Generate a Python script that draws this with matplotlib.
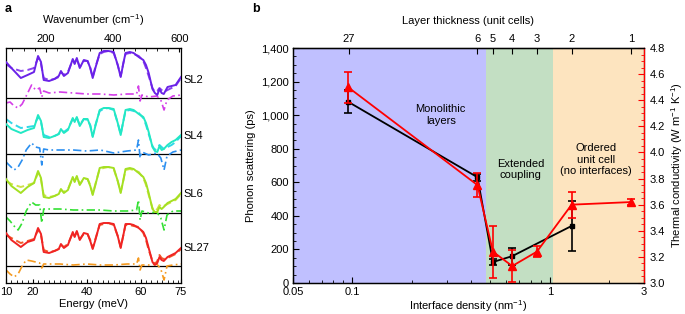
import numpy as np
import matplotlib
matplotlib.use("Agg")
import matplotlib.pyplot as plt
from matplotlib.ticker import FixedLocator, NullLocator, MultipleLocator, FuncFormatter

plt.rcParams['font.family'] = ['Liberation Sans', 'DejaVu Sans']
plt.rcParams['font.size'] = 7.5
plt.rcParams['mathtext.default'] = 'regular'

# ---------------- panel a data (heights above each baseline, arb. units) ----------------
E_main = [10, 12, 15.5, 18, 20.4, 21.9, 23, 24, 26, 28, 29.6, 30.4, 31.5, 33, 34.8, 35.5,
          36.3, 37.4, 38.9, 40.3, 41.3, 42.2, 43.2, 44.8, 46.3, 48, 50, 51.5, 52.6, 53.6,
          54.4, 56, 57.4, 59.3, 61, 62, 63, 64.4, 65.3, 66.2, 67, 67.8, 68.6, 70, 71.5, 73, 75]

sl2_solid = [36, 30, 20, 23, 26, 42, 36, 18, 17, 19, 22, 27, 22, 25, 39, 34, 40, 30, 38, 37, 30, 20, 30, 45,
             47, 47, 46, 33, 21, 35, 45, 46, 45, 41, 38, 33, 25, 9, 5, 3, 9, 5, 4, 11, 12, 13, 21]
sl2_dash = [34, 30, 27, 28, 30, 40, 34, 20, 18, 19, 21, 26, 23, 26, 38, 35, 39, 31, 37, 37, 30, 21, 31, 44,
            46, 47, 45, 33, 22, 35, 44, 45, 44, 42, 37, 30, 22, 10, 6, 7, 10, 8, 6, 8, 10, 12, 20]

sl4_solid = [30, 25, 21, 24, 26, 39, 33, 17, 16, 18, 20, 25, 21, 24, 36, 32, 37, 28, 35, 35, 28, 17, 28, 44,
             46, 46, 45, 31, 19, 33, 44, 45, 44, 40, 37, 31, 22, 7, 3, 2, 8, 4, 5, 9, 12, 14, 19]
sl4_dash = [35, 31, 26, 27, 28, 37, 32, 19, 17, 18, 20, 24, 22, 25, 35, 33, 36, 29, 35, 34, 29, 18, 29, 43,
            45, 46, 44, 31, 20, 33, 43, 44, 43, 41, 36, 29, 20, 8, 4, 6, 9, 7, 5, 7, 9, 12, 18]

sl6_solid = [34, 27, 20, 26, 30, 42, 35, 16, 15, 17, 19, 24, 20, 23, 36, 31, 37, 28, 35, 34, 27, 18, 28, 45,
             46, 46, 45, 32, 20, 33, 44, 45, 44, 40, 36, 30, 20, 4, 1, 1, 6, 4, 6, 10, 12, 14, 20]
sl6_dash = [32, 29, 26, 28, 30, 40, 33, 18, 16, 17, 19, 23, 21, 24, 35, 32, 36, 29, 34, 34, 28, 19, 29, 44,
            45, 46, 44, 32, 21, 33, 43, 44, 43, 41, 35, 28, 18, 5, 2, 4, 8, 6, 7, 9, 11, 13, 19]

sl27_solid = [33, 26, 19, 24, 26, 38, 32, 14, 13, 15, 17, 22, 18, 21, 34, 29, 35, 26, 33, 32, 25, 17, 26, 42,
              43, 43, 42, 30, 18, 31, 42, 42, 41, 38, 34, 28, 18, 4, 1, 3, 9, 6, 5, 9, 11, 13, 18]
sl27_dash = [31, 28, 23, 25, 27, 36, 31, 16, 14, 15, 17, 21, 19, 22, 33, 30, 34, 27, 32, 32, 26, 18, 27, 41,
             42, 43, 41, 30, 19, 31, 41, 41, 40, 39, 33, 26, 16, 5, 2, 5, 11, 8, 7, 8, 10, 12, 17]

E_diff = [10, 11.5, 13, 14.5, 16, 17.5, 19.5, 21, 22.5, 23.3, 24, 26, 30, 35, 40, 45, 50, 55,
          58.5, 59.2, 59.8, 60.5, 63, 66, 67.5, 68.7, 69.8, 72, 75]
sl2_diff = [-5, -4, -8, -10, -6, 2, 13, 8, 10, 1, 7, 5, 6, 5, 4, 4, 3, 4, 4, 12, -3, 3, 1, 2, -2, -12, -2, 2, 3]
sl4_diff = [-8, -12, -16, -13, -6, 4, 11, 7, 6, -11, 5, 4, 4, 4, 3, 4, 1, 3, 4, 14, -4, 2, -1, 1, -4, -16, -2, 2, 4]
sl6_diff = [-4, -8, -13, -17, -10, 2, 11, 8, 8, -10, 4, 4, 4, 3, 3, 3, 2, 2, 3, 13, -7, 2, 0, 1, -5, -17, -2, 2, 2]
sl27_diff = [-4, -8, -11, -8, 0, 6, 5, 4, 3, -2, 2, 2, 2, 1, 2, 1, 1, 2, 2, 8, -4, 1, 1, 2, -3, -14, 0, 1, 2]

sample_names = ['SL2', 'SL4', 'SL6', 'SL27']
baselines = [0, -56, -115, -168]

# ---------------- panel b data ----------------
layer_cells = [27, 6, 5, 4, 3, 2, 1]
density_per_cell = 2.58  # nm^-1 for one unit cell

black_x = [0.095, 0.43, 0.515, 0.645, 1.29]
black_y = [1080, 630, 125, 160, 340]
black_err = [70, 20, 20, 50, 150]

red_x = [0.095, 0.43, 0.515, 0.645, 0.86, 1.29, 2.58]
red_y = [4.50, 3.75, 3.24, 3.13, 3.24, 3.60, 3.62]
red_err = [0.12, 0.09, 0.20, 0.12, 0.04, 0.10, 0.02]

regions = [(0.05, 0.474, '#c0c0ff'), (0.474, 1.036, '#c3dfc3'), (1.036, 3.0, '#fde4bf')]

# ---------------- figure ----------------
fig = plt.figure(figsize=(6.85, 3.14), dpi=100)

# panel a
axa = fig.add_axes([6 / 685, 31 / 314, 175 / 685, 235 / 314])
colors = [('#6a22e8', '#8a44ee', '#d43ee8'),
          ('#22e8c4', '#30d8e8', '#2b8ff0'),
          ('#a4e022', '#cfe248', '#34e034'),
          ('#f02424', '#f25a2a', '#f59a20')]
mains = [(sl2_solid, sl2_dash, sl2_diff), (sl4_solid, sl4_dash, sl4_diff),
         (sl6_solid, sl6_dash, sl6_diff), (sl27_solid, sl27_dash, sl27_diff)]
label_y = [18, -38, -96, -150]

for (sol, das, dif), (c1, c2, c3), base, name, ly in zip(mains, colors, baselines, sample_names, label_y):
    axa.axhline(base, color='black', lw=0.9, zorder=1)
    axa.plot(E_main, np.array(das) + base, color=c2, lw=1.4, ls=(0, (4, 2)), zorder=2)
    axa.plot(E_main, np.array(sol) + base, color=c1, lw=1.4, zorder=3)
    axa.plot(E_diff, np.array(dif) + base, color=c3, lw=1.2, ls=(0, (5, 2, 1, 2)), zorder=2)
    axa.text(1.015, ly, name, transform=axa.get_yaxis_transform(), ha='left', va='center', fontsize=8)

axa.set_xlim(10, 75)
axa.set_ylim(-185, 50)
axa.set_yticks([])
axa.set_xticks([10, 20, 40, 60, 75])
axa.xaxis.set_minor_locator(MultipleLocator(2))
axa.tick_params(axis='x', which='both', direction='in', length=3, pad=3, labelsize=8)
axa.tick_params(axis='x', which='minor', length=2)
axa.set_xlabel('Energy (meV)', labelpad=1, fontsize=8)

mev_to_cm = 8.0655
secx = axa.secondary_xaxis('top', functions=(lambda e: e * mev_to_cm, lambda w: w / mev_to_cm))
secx.set_xticks([200, 400, 600])
secx.xaxis.set_minor_locator(MultipleLocator(200 / 6))
secx.tick_params(axis='x', which='both', direction='in', length=3, pad=3, labelsize=8)
secx.tick_params(axis='x', which='minor', length=2)
secx.set_xlabel('Wavenumber (cm$^{-1}$)', labelpad=7, fontsize=8)
for s in axa.spines.values():
    s.set_linewidth(0.9)

# panel b
axb = fig.add_axes([293 / 685, 31 / 314, 351 / 685, 235 / 314])
axb.set_xscale('log')
for x0, x1, col in regions:
    axb.axvspan(x0, x1, color=col, lw=0, zorder=0)
axb.errorbar(black_x, black_y, yerr=black_err, color='black', marker='s', ms=3, lw=1.3,
             elinewidth=1.2, capsize=3, capthick=1.2, zorder=3)
axb.set_xlim(0.05, 3)
axb.set_ylim(0, 1400)
axb.set_yticks(range(0, 1401, 200))
axb.yaxis.set_major_formatter(FuncFormatter(lambda v, p: f'{int(v):,}'))
axb.yaxis.set_minor_locator(MultipleLocator(50))
axb.set_xticks([0.05, 0.1, 1, 3])
axb.set_xticklabels(['0.05', '0.1', '1', '3'])
axb.tick_params(which='both', direction='in', length=4, pad=3, labelsize=8)
axb.tick_params(which='minor', length=2.5)
axb.tick_params(axis='y', right=False)
axb.set_ylabel('Phonon scattering (ps)', labelpad=4, fontsize=8)
axb.set_xlabel('Interface density (nm$^{-1}$)', labelpad=1, fontsize=8)

axr = axb.twinx()
axr.errorbar(red_x, red_y, yerr=red_err, color='red', marker='^', ms=5.5, lw=1.3,
             elinewidth=1.2, capsize=3, capthick=1.2, zorder=4)
axr.set_ylim(3.0, 4.8)
axr.set_yticks(np.arange(3.0, 4.81, 0.2))
axr.yaxis.set_major_formatter(FuncFormatter(lambda v, p: f'{v:.1f}'))
axr.yaxis.set_minor_locator(MultipleLocator(0.05))
axr.tick_params(axis='y', which='both', direction='in', length=4, pad=4, color='red', labelsize=8)
axr.tick_params(axis='y', which='minor', length=2.5)
axr.spines['right'].set_color('red')
axr.set_ylabel('Thermal conductivity (W m$^{-1}$ K$^{-1}$)', labelpad=3, fontsize=8)

top = axb.secondary_xaxis('top')
top.set_xticks([density_per_cell / n for n in layer_cells])
top.set_xticklabels([str(n) for n in layer_cells])
top.xaxis.set_minor_locator(NullLocator())
top.tick_params(axis='x', direction='in', length=4, pad=3, labelsize=8)
top.set_xlabel('Layer thickness (unit cells)', labelpad=7, fontsize=8)

for s in list(axb.spines.values()) + [axr.spines['left'], axr.spines['top'], axr.spines['bottom']]:
    s.set_linewidth(0.9)
axr.spines['right'].set_linewidth(0.9)

axb.text(0.28, 1000, 'Monolithic\nlayers', ha='center', va='center', fontsize=8, linespacing=1.2)
axb.text(0.71, 675, 'Extended\ncoupling', ha='center', va='center', fontsize=8, linespacing=1.2)
axb.text(1.72, 735, 'Ordered\nunit cell\n(no interfaces)', ha='center', va='center', fontsize=8, linespacing=1.2)

fig.text(5 / 685, 1 - 9 / 314, 'a', fontweight='bold', fontsize=9, va='center')
fig.text(252 / 685, 1 - 9 / 314, 'b', fontweight='bold', fontsize=9, va='center')

fig.savefig('out.png', dpi=100)
